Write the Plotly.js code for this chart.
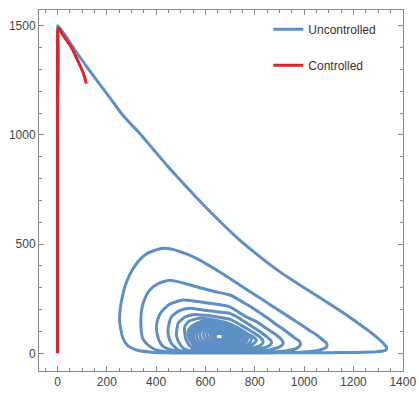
<!DOCTYPE html>
<html>
<head>
<meta charset="utf-8">
<script src="https://cdn.plot.ly/plotly-3.0.1.min.js"></script>
<style>html,body{margin:0;padding:0;background:#fff;}#chart{width:419px;height:393px;}</style>
</head>
<body>
<div id="chart"></div>
<script>
// Uncontrolled trajectory
var uncontrolledX = [
  0,0,0,1,3,4,2,1,
  30,70,119,170,218,265,300,333,390,448,505,561,650,739,820,902,970,1037,1105,1172,1225,1267,1300,1321,1335,1330,1294,
  1200,1100,1000,900,800,700,600,500,441,380,320,285,265,252,254,259,272,292,320,360,421,460,520,577,640,699,770,834,900,969,1020,1051,1075,1091,1092,1064,
  1000,900,800,700,600,500,441,395,367,345,340,338,340,352,374,410,455,510,577,640,699,770,834,890,929,960,983,985,969,
  900,800,700,600,520,480,462,430,414,405,401,405,421,455,509,560,617,660,699,760,807,850,888,910,915,905,870,
  800,700,600,530,490,462,452,448,452,462,495,536,590,640,699,745,780,820,848,865,868,858,820,
  750,650,560,515,495,482,485,489,515,556,600,650,700,745,790,820,834,825,790,
  720,640,575,540,522,516,516,535,577,625,680,730,770,800,807,790,740,
  670,600,555,535,529,545,590,640,690,735,770,787,
  780,750,690,620,570,545,540,552,595,645,695,740,772,
  765,735,680,620,575,555,552,565,602,650,700,740,760,
  752,725,675,622,585,567,565,578,610,655,700,735,748,
  740,715,670,628,596,580,579,592,618,658,697,725,735,
  728,705,667,632,607,594,594,605,627,660,692,714,722,
  716,695,663,636,617,607,608,618,636,662,688,704,710,
  704,686,660,640,626,620,621,630,644,664,683,695,698,
  692,677,657,643,634,631,633,641,652,667,680,687,
  680,669,655,646,641,641,645,652,662,672,676,665
];
var uncontrolledY = [
  0,500,1000,1150,1250,1380,1470,1500,
  1458,1390,1312,1234,1162,1090,1047,1008,932,855,784,716,614,518,443,373,322,274,225,175,133,99,68,46,26,14,7,
  4,3,2,2,1,1,1,1,2,5,15,35,70,145,200,236,300,358,410,455,480,478,456,427,385,343,290,244,195,145,106,84,62,46,30,15,
  6,3,2,2,2,3,7,18,38,70,99,150,190,245,290,320,335,322,300,282,267,222,175,130,99,72,53,38,23,
  8,4,3,3,5,9,15,30,53,85,114,150,190,225,244,238,229,222,213,170,145,112,84,60,46,32,18,
  8,5,5,7,15,46,70,99,135,167,195,206,198,191,183,155,130,100,76,58,46,34,20,
  10,7,10,20,45,84,115,137,165,178,174,166,155,128,98,75,53,38,24,
  14,12,16,30,60,90,122,148,160,155,142,118,90,70,60,40,25,
  20,22,35,65,99,125,148,143,130,105,82,68,
  50,30,18,16,25,55,90,122,140,136,122,98,75,
  55,32,22,22,32,60,92,118,132,128,112,90,72,
  55,36,27,28,40,65,93,114,125,121,105,85,70,
  58,40,33,35,47,70,95,111,119,115,100,83,72,
  60,45,39,41,53,74,95,107,113,109,96,82,74,
  63,50,45,47,58,77,95,104,107,104,93,82,75,
  66,55,51,53,63,79,94,100,102,99,91,82,77,
  70,60,57,59,67,80,91,96,97,94,88,82,
  74,66,63,66,73,82,89,91,90,86,80,80
];
// Controlled trajectory
var controlledX = [0,0,0,0,1,4,12,28,56,82,103,117];
var controlledY = [0,500,1000,1400,1480,1490,1475,1448,1402,1341,1288,1235];

var xTickVals = [0,200,400,600,800,1000,1200,1400];
var yTickVals = [0,500,1000,1500];

var traces = [
  {x: uncontrolledX, y: uncontrolledY, mode: 'lines', name: 'Uncontrolled', legendgroup: 'a',
   line: {color: '#5E90C3', width: 3, shape: 'spline', smoothing: 0.6}},
  {x: controlledX, y: controlledY, mode: 'lines', name: 'Controlled', legendgroup: 'b',
   line: {color: '#DC2430', width: 3, shape: 'spline', smoothing: 0.6}}
];

var axisCommon = {
  showgrid: false, zeroline: false, showline: true, linecolor: '#8a8a8a', linewidth: 1,
  mirror: 'ticks', ticks: 'inside', ticklen: 5, tickcolor: '#8a8a8a', tickwidth: 1,
  tickfont: {family: 'Liberation Sans, Arial, sans-serif', size: 12, color: '#444'}
};

var layout = {
  width: 419, height: 393,
  margin: {l: 39, r: 16, t: 10, b: 22},
  paper_bgcolor: '#fff', plot_bgcolor: '#fff',
  showlegend: true,
  legend: {x: 0.63, y: 0.987, xanchor: 'left', yanchor: 'top', bgcolor: 'rgba(0,0,0,0)',
           font: {family: 'Liberation Sans, Arial, sans-serif', size: 12, color: '#333'},
           tracegroupgap: 17},
  xaxis: Object.assign({}, axisCommon, {range: [-75, 1401], tickvals: xTickVals,
           minor: {dtick: 50, tick0: 0, ticks: 'inside', ticklen: 3, tickcolor: '#8a8a8a'}}),
  yaxis: Object.assign({}, axisCommon, {range: [-81, 1572], tickvals: yTickVals,
           minor: {dtick: 100, tick0: 0, ticks: 'inside', ticklen: 3, tickcolor: '#8a8a8a'}})
};

Plotly.newPlot('chart', traces, layout, {displayModeBar: false, staticPlot: true});
</script>
</body>
</html>
